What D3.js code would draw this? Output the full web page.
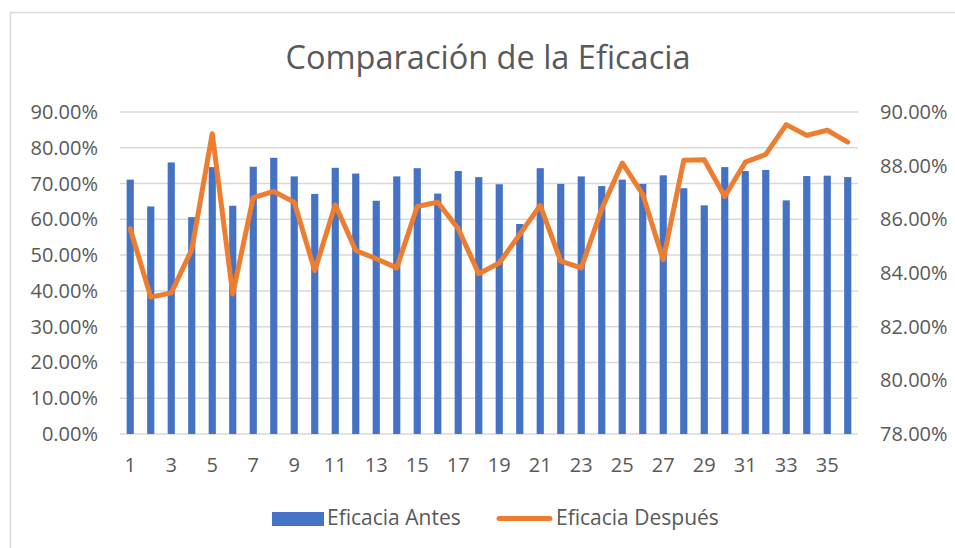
<!DOCTYPE html>
<html>
<head>
<meta charset="utf-8">
<script src="https://cdn.jsdelivr.net/npm/d3@7"></script>
<style>
  body { margin: 0; background: #fff; }
  text { font-family: "Open Sans", sans-serif; fill: #595959; }
</style>
</head>
<body>
<div id="chart"></div>
<script>
// categories 1..36
var categorias = ["1","2","3","4","5","6","7","8","9","10","11","12","13","14","15","16","17","18",
                  "19","20","21","22","23","24","25","26","27","28","29","30","31","32","33","34","35","36"];

// Eficacia Antes (%), left axis
var antes = [71.1, 63.6, 75.9, 60.6, 74.6, 63.8, 74.7, 77.2, 72.0, 67.1, 74.4, 72.8,
             65.2, 72.0, 74.3, 67.2, 73.5, 71.8, 69.8, 58.7, 74.3, 69.9, 72.0, 69.3,
             71.1, 69.9, 72.3, 68.7, 63.9, 74.6, 73.5, 73.8, 65.3, 72.1, 72.2, 71.8];

// Eficacia Después (%), right axis
var despues = [85.65, 83.10, 83.26, 84.87, 89.19, 83.22, 86.81, 87.04, 86.64, 84.09, 86.54, 84.84,
               84.53, 84.19, 86.48, 86.64, 85.65, 83.97, 84.37, 85.44, 86.52, 84.44, 84.19, 86.39,
               88.10, 86.93, 84.49, 88.20, 88.22, 86.85, 88.13, 88.42, 89.53, 89.13, 89.32, 88.88];

var ticksIzq = [0, 10, 20, 30, 40, 50, 60, 70, 80, 90];
var ticksDer = [78, 80, 82, 84, 86, 88, 90];
var ticksX = categorias.filter(function(d, i) { return i % 2 == 0; });

var width = 955, height = 548;
var plot = {left: 120, right: 858, top: 112, bottom: 434};

var svg = d3.select("#chart").append("svg")
    .attr("width", width)
    .attr("height", height);

// chart frame
svg.append("rect")
    .attr("x", 10.5).attr("y", 12.5)
    .attr("width", 1000).attr("height", 1000)
    .attr("fill", "none")
    .attr("stroke", "#d9d9d9")
    .attr("stroke-width", 1.5);

var x = d3.scaleBand()
    .domain(categorias)
    .range([plot.left, plot.right])
    .padding(0);

var yIzq = d3.scaleLinear().domain([0, 90]).range([plot.bottom, plot.top]);
var yDer = d3.scaleLinear().domain([78, 90]).range([plot.bottom, plot.top]);

function cx(d) { return x(d) + x.bandwidth() / 2; }

// gridlines
svg.append("g").selectAll("line")
    .data(ticksIzq)
    .join("line")
    .attr("x1", plot.left).attr("x2", plot.right)
    .attr("y1", function(d) { return yIzq(d); })
    .attr("y2", function(d) { return yIzq(d); })
    .attr("stroke", "#d9d9d9")
    .attr("stroke-width", 1.5);

// bars
var bw = x.bandwidth() * 0.35;
svg.append("g").selectAll("rect")
    .data(antes)
    .join("rect")
    .attr("x", function(d, i) { return cx(categorias[i]) - bw / 2; })
    .attr("y", function(d) { return yIzq(d); })
    .attr("width", bw)
    .attr("height", function(d) { return yIzq(0) - yIzq(d); })
    .attr("fill", "#4472c4");

// line
var line = d3.line()
    .x(function(d, i) { return cx(categorias[i]); })
    .y(function(d) { return yDer(d); });

svg.append("path")
    .datum(despues)
    .attr("d", line)
    .attr("fill", "none")
    .attr("stroke", "#ed7d31")
    .attr("stroke-width", 5)
    .attr("stroke-linejoin", "round")
    .attr("stroke-linecap", "round");

// left axis labels
svg.append("g").selectAll("text")
    .data(ticksIzq)
    .join("text")
    .attr("x", 98)
    .attr("y", function(d) { return yIzq(d); })
    .attr("dy", "0.35em")
    .attr("text-anchor", "end")
    .style("font-size", "20px")
    .text(function(d) { return d.toFixed(2) + "%"; });

// right axis labels
svg.append("g").selectAll("text")
    .data(ticksDer)
    .join("text")
    .attr("x", 880)
    .attr("y", function(d) { return yDer(d); })
    .attr("dy", "0.35em")
    .attr("text-anchor", "start")
    .style("font-size", "20px")
    .text(function(d) { return d.toFixed(2) + "%"; });

// x labels
svg.append("g").selectAll("text")
    .data(ticksX)
    .join("text")
    .attr("x", function(d) { return cx(d); })
    .attr("y", 472)
    .attr("text-anchor", "middle")
    .style("font-size", "20px")
    .text(function(d) { return d; });

// title
svg.append("text")
    .attr("x", 488).attr("y", 69)
    .attr("text-anchor", "middle")
    .style("font-size", "32.5px")
    .text("Comparación de la Eficacia");

// legend
var leg = svg.append("g");
leg.append("rect")
    .attr("x", 272).attr("y", 512)
    .attr("width", 52).attr("height", 14)
    .attr("fill", "#4472c4");
leg.append("text")
    .attr("x", 327).attr("y", 525)
    .style("font-size", "21px")
    .text("Eficacia Antes");
leg.append("line")
    .attr("x1", 499).attr("x2", 550)
    .attr("y1", 518.5).attr("y2", 518.5)
    .attr("stroke", "#ed7d31")
    .attr("stroke-width", 5)
    .attr("stroke-linecap", "round");
leg.append("text")
    .attr("x", 556).attr("y", 525)
    .style("font-size", "21px")
    .text("Eficacia Después");
</script>
</body>
</html>
